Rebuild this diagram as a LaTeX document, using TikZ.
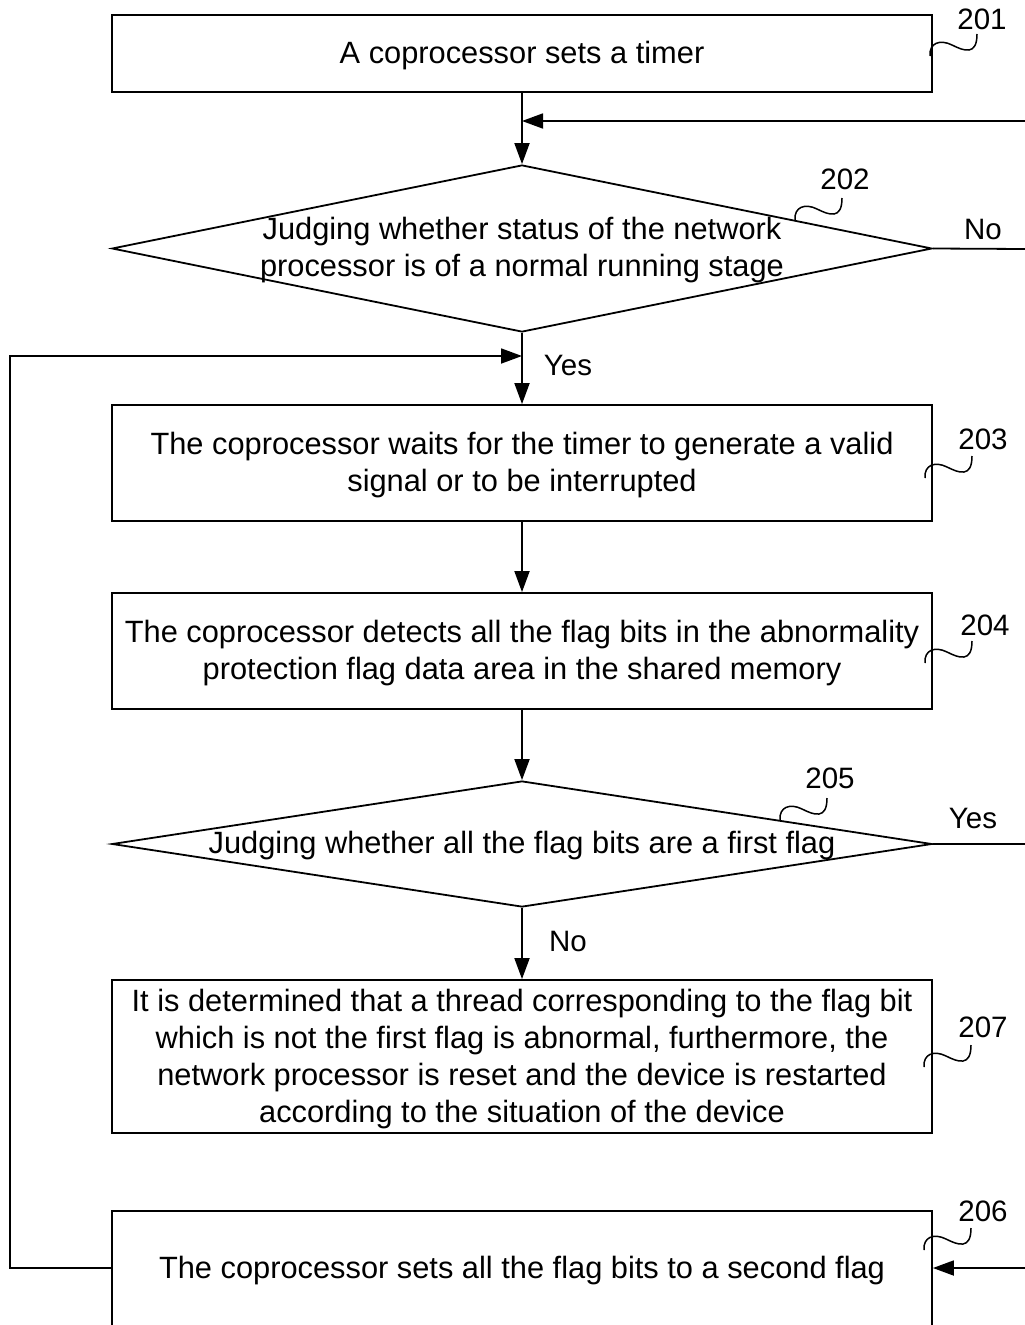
\documentclass[tikz,border=0pt]{standalone}
\usepackage{fontspec}
\setmainfont{Liberation Sans}
\usetikzlibrary{arrows.meta,shapes.geometric}
\newcommand\squigat[1]{\draw[squig, shift={#1}] (0,0) .. controls (-1,-13) and (10,-17) .. (22,-11) .. controls (34,-5) and (47,0) .. (47,-22);}
\begin{document}
\begin{tikzpicture}[x=1pt,y=-1pt,
 box/.style={draw, line width=1.8pt, minimum width=820pt, inner sep=0pt},
 dia/.style={draw, diamond, line width=1.8pt, minimum width=820pt, inner sep=0pt},
 txt/.style={align=center, font=\fontsize{30.8}{37}\selectfont, inner sep=0pt, yshift=-2.5pt},
 lbl/.style={font=\fontsize{29.5}{34}\selectfont, inner sep=0pt, yshift=-1pt},
 conn/.style={line width=1.8pt},
 arr/.style={line width=1.8pt, -{Triangle[length=21pt,width=15pt]}},
 squig/.style={line width=1.5pt}
]
\useasboundingbox (0,0) rectangle (1025,1325);

% boxes and decisions
\node[box, minimum height=77pt] (b201) at (522,53.5) {};
\node[txt] (t201) at (b201) {A coprocessor sets a timer};
\node[dia, minimum height=167pt, aspect=4.91] (d202) at (522,248.5) {};
\node[txt] (t202) at (522,247.5) {Judging whether status of the network\\processor is of a normal running stage};
\node[box, minimum height=116pt] (b203) at (522,463) {};
\node[txt] (t203) at (b203) {The coprocessor waits for the timer to generate a valid\\signal or to be interrupted};
\node[box, minimum height=116pt] (b204) at (522,651) {};
\node[txt] (t204) at (b204) {The coprocessor detects all the flag bits in the abnormality\\protection flag data area in the shared memory};
\node[dia, minimum height=126pt, aspect=6.5] (d205) at (522,844) {};
\node[txt] (t205) at (522,843) {Judging whether all the flag bits are a first flag};
\node[box, minimum height=153pt] (b207) at (522,1056.5) {};
\node[txt] (t207) at (b207) {It is determined that a thread corresponding to the flag bit\\which is not the first flag is abnormal, furthermore, the\\network processor is reset and the device is restarted\\according to the situation of the device};
\node[box, minimum height=140pt] (b206) at (522,1281) {};
\node[txt] (t206) at (522,1268) {The coprocessor sets all the flag bits to a second flag};

% reference labels
\node[lbl] (l201) at (982,18) {201};
\node[lbl] (l202) at (845,178) {202};
\node[lbl] (l203) at (983,438) {203};
\node[lbl] (l204) at (985,624) {204};
\node[lbl] (l205) at (830,777) {205};
\node[lbl] (l207) at (983,1026) {207};
\node[lbl] (l206) at (983,1210) {206};
\squigat{(930,56)}
\squigat{(795,220)}
\squigat{(925,478)}
\squigat{(925,663)}
\squigat{(780,820)}
\squigat{(924,1067)}
\squigat{(924,1250)}

% coordinates
\coordinate (r1) at (1025,121);
\coordinate (r2) at (1025,249);
\coordinate (r3) at (1025,844);
\coordinate (r4) at (1025,1268);
\coordinate (lc) at (10,356);
\coordinate (in206) at (112,1268);

% connectors
\draw[arr] (b201) -- (d202);
\draw[arr] (r1) -- (r1 -| b201.south);
\draw[conn] (d202.east) -- (r2);
\node[lbl] (no1) at (983,228) {No};
\draw[arr] (d202) -- (b203);
\node[lbl] (yes1) at (568,364) {Yes};
\draw[arr] (in206) -| (lc) -- (lc -| d202.south);
\draw[arr] (b203) -- (b204);
\draw[arr] (b204) -- (d205);
\draw[conn] (d205.east) -- (r3);
\node[lbl] (yes2) at (973,817) {Yes};
\draw[arr] (d205) -- (b207);
\node[lbl] (no2) at (568,940) {No};
\draw[arr] (r4) -- (r4 -| b206.east);
\end{tikzpicture}
\end{document}
